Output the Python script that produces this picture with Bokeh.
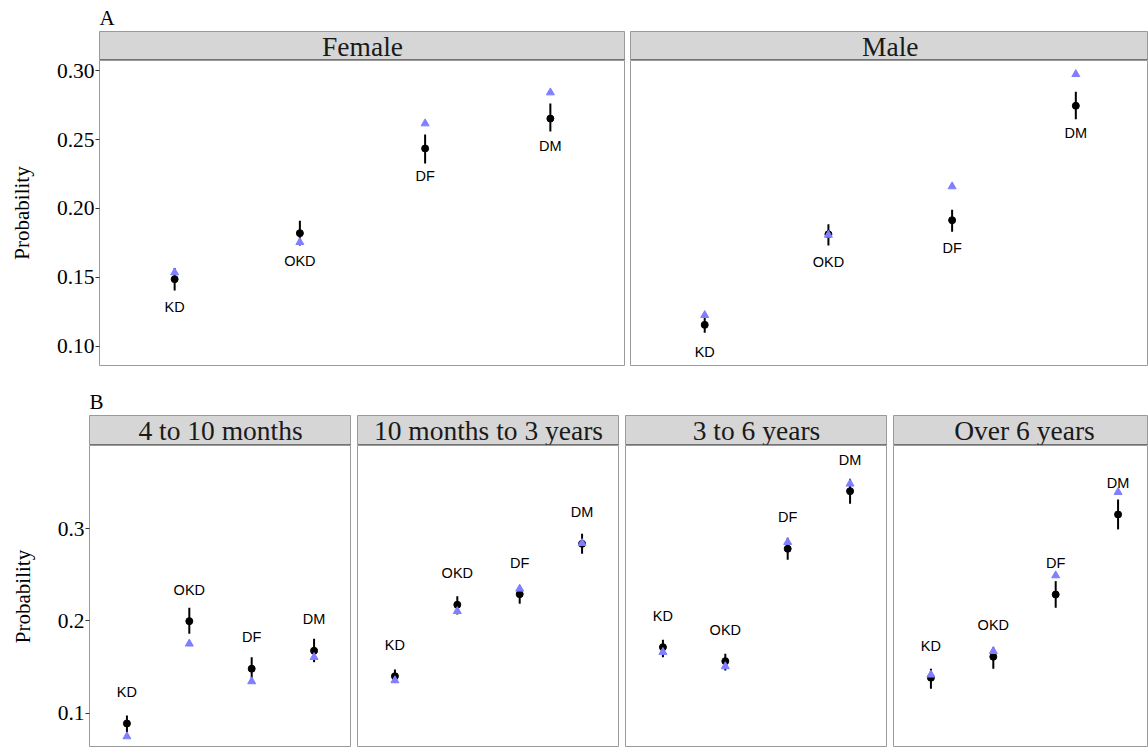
from bokeh.plotting import figure
from bokeh.layouts import column, row
from bokeh.models import Range1d, FixedTicker, PrintfTickFormatter, Span, Label
from bokeh.core.properties import value
from bokeh.embed import file_html
from bokeh.resources import INLINE

# ---------------- data ----------------
categories = ["KD", "OKD", "DF", "DM"]

sex_facets = ["Female", "Male"]
female_est = [0.1487, 0.1821, 0.2436, 0.2653]
female_lo = [0.1404, 0.1731, 0.2327, 0.2559]
female_hi = [0.1567, 0.1911, 0.2537, 0.2763]
female_obs = [0.1535, 0.1755, 0.2617, 0.2842]

male_est = [0.1155, 0.1813, 0.1915, 0.2746]
male_lo = [0.1097, 0.1731, 0.1831, 0.2649]
male_hi = [0.1210, 0.1886, 0.1991, 0.2848]
male_obs = [0.1225, 0.1808, 0.2160, 0.2975]

age_facets = ["4 to 10 months", "10 months to 3 years", "3 to 6 years", "Over 6 years"]
age1_est = [0.0888, 0.1998, 0.1482, 0.1677]
age1_lo = [0.0794, 0.1861, 0.1355, 0.1553]
age1_hi = [0.0975, 0.2143, 0.1607, 0.1807]
age1_obs = [0.0747, 0.1753, 0.1344, 0.1607]

age2_est = [0.1401, 0.2176, 0.2291, 0.2837]
age2_lo = [0.1326, 0.2070, 0.2187, 0.2729]
age2_hi = [0.1474, 0.2269, 0.2374, 0.2946]
age2_obs = [0.1355, 0.2106, 0.2349, 0.2844]

age3_est = [0.1716, 0.1564, 0.2783, 0.3408]
age3_lo = [0.1607, 0.1463, 0.2664, 0.3271]
age3_hi = [0.1796, 0.1644, 0.2902, 0.3542]
age3_obs = [0.1662, 0.1507, 0.2855, 0.3488]

age4_est = [0.1384, 0.1612, 0.2287, 0.3155]
age4_lo = [0.1265, 0.1482, 0.2143, 0.2993]
age4_hi = [0.1482, 0.1716, 0.2432, 0.3318]
age4_obs = [0.1417, 0.1672, 0.2493, 0.3397]

ticks_a = [0.10, 0.15, 0.20, 0.25, 0.30]
ticks_b = [0.1, 0.2, 0.3]

# ---------------- style ----------------
SERIF = "Liberation Serif"
SANS = "Liberation Sans"
BORDER = "#9a9a9a"
STRIP_FILL = "#d6d6d6"
OBS_COLOR = "#7f7fff"

xs = [i + 1 for i in range(len(categories))]


def make_panel(est, lo, hi, obs, width, height, mb_left, mb_bottom, x_range, y_range,
               label_offset, ticks=None, fmt=None):
    p = figure(width=width, height=height, x_range=x_range, y_range=y_range,
               output_backend="svg", toolbar_location=None,
               x_axis_location=None, y_axis_location="left" if ticks else None,
               min_border_left=mb_left, min_border_right=0,
               min_border_top=0, min_border_bottom=mb_bottom)
    p.grid.visible = False
    p.outline_line_color = BORDER
    p.outline_line_width = 1
    p.background_fill_color = "white"
    p.border_fill_color = "white"
    if ticks:
        ax = p.yaxis[0]
        ax.ticker = FixedTicker(ticks=ticks)
        ax.formatter = PrintfTickFormatter(format=fmt)
        ax.major_label_text_font = SERIF
        ax.major_label_text_font_size = "21.5px"
        ax.major_label_text_color = "black"
        ax.major_label_standoff = 1
        ax.major_tick_out = 4
        ax.major_tick_in = 0
        ax.major_tick_line_color = "#333333"
        ax.minor_tick_line_color = None
        ax.axis_line_color = None
        ax.axis_label = "Probability"
        ax.axis_label_text_font = SERIF
        ax.axis_label_text_font_size = "21px"
        ax.axis_label_text_font_style = "normal"
        ax.axis_label_text_color = "black"
        ax.axis_label_standoff = 20
    p.segment(x0=xs, y0=lo, x1=xs, y1=hi, line_color="black", line_width=2)
    p.scatter(x=xs, y=est, marker="circle", size=7, fill_color="black", line_color="black")
    p.scatter(x=xs, y=obs, marker="triangle", size=8, fill_color=OBS_COLOR, line_color=OBS_COLOR)
    p.text(x=xs, y=[e + label_offset for e in est], text=categories,
           text_font=value(SANS), text_font_size="14.5px", text_align="center",
           text_baseline="middle", text_color="black")
    return p


def make_strip(label, width, height, mb_left, mb_top, x_range, title=None):
    s = figure(width=width, height=height, x_range=x_range, y_range=Range1d(0, 1),
               output_backend="svg", toolbar_location=None,
               x_axis_location=None, y_axis_location=None,
               min_border_left=mb_left, min_border_right=0,
               min_border_top=mb_top, min_border_bottom=0,
               title=title)
    s.grid.visible = False
    s.background_fill_color = STRIP_FILL
    s.border_fill_color = "white"
    s.outline_line_color = BORDER
    s.add_layout(Label(x=sum(xs) / len(xs), y=0.5, text=label, text_font=SERIF,
                       text_font_size="27.5px", text_align="center",
                       text_baseline="middle", text_color="#1a1a1a"))
    s.add_layout(Span(location=0, dimension="width", line_color="#4d4d4d", line_width=2))
    if title:
        s.title.text_font = SERIF
        s.title.text_font_size = "21px"
        s.title.text_font_style = "normal"
        s.title.text_color = "black"
        s.title.align = "left"
        s.title.standoff = 4
    return s


# ---------------- row A ----------------
yr_a = Range1d(0.08598, 0.30748)
xr_f = Range1d(0.4, 4.6)
xr_m = Range1d(0.4, 0.4 + 518 / 123.7)

strip_f = make_strip(sex_facets[0], 625, 60, 99, 31, xr_f, title="A")
strip_m = make_strip(sex_facets[1], 523, 60, 5, 31, xr_m)
panel_f = make_panel(female_est, female_lo, female_hi, female_obs, 625, 306, 99, 1,
                     xr_f, yr_a, -0.02, ticks_a, "%.2f")
panel_m = make_panel(male_est, male_lo, male_hi, male_obs, 523, 306, 5, 1,
                     xr_m, yr_a, -0.02)

# ---------------- row B ----------------
yr_b = Range1d(0.3903 - 302 / 922.0, 0.3903)
sc = 262 / 4.2
xr_b = [Range1d(0.4, 4.6), Range1d(0.4, 4.6), Range1d(0.4, 4.6), Range1d(0.4, 0.4 + 255 / sc)]
widths_b = [351, 268, 268, 261]
mbl_b = [89, 6, 6, 6]
age_data = [
    (age1_est, age1_lo, age1_hi, age1_obs),
    (age2_est, age2_lo, age2_hi, age2_obs),
    (age3_est, age3_lo, age3_hi, age3_obs),
    (age4_est, age4_lo, age4_hi, age4_obs),
]

strips_b = []
panels_b = []
for i, facet in enumerate(age_facets):
    strips_b.append(make_strip(facet, widths_b[i], 79, mbl_b[i], 49, xr_b[i],
                               title="B" if i == 0 else None))
    e, lo, hi, ob = age_data[i]
    panels_b.append(make_panel(e, lo, hi, ob, widths_b[i], 302, mbl_b[i], 0,
                               xr_b[i], yr_b, 0.034,
                               ticks_b if i == 0 else None, "%.1f"))

layout = column(row(strip_f, strip_m), row(panel_f, panel_m),
                row(*strips_b), row(*panels_b))

open("out.html", "w").write(file_html(layout, INLINE))
